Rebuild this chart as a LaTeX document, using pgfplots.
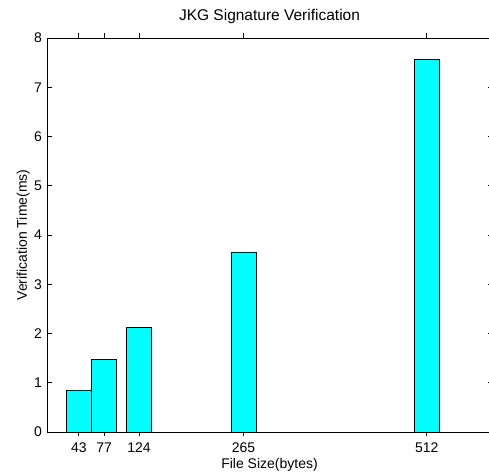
\documentclass[border=0pt]{standalone}
\usepackage{pgfplots}
\pgfplotsset{compat=1.18}
\usepackage{fontspec}
\setmainfont{Liberation Sans}
\definecolor{barcyan}{RGB}{0,255,255}

\begin{document}
\begin{tikzpicture}
\begin{axis}[
    scale only axis,
    width=445pt,
    height=394pt,
    xmin=0, xmax=600,
    ymin=0, ymax=8,
    xtick={43,77,124,265,512},
    ytick={0,1,...,8},
    tick align=inside,
    major tick length=4.5pt,
    xtick pos=both, ytick pos=both,
    axis line style={line width=0.8pt},
    tick style={line width=0.8pt, black},
    font=\fontsize{14}{16}\selectfont,
    /pgf/number format/assume math mode=true,
    xticklabel style={anchor=base, yshift=-16pt},
    yticklabel style={xshift=-1.5pt},
    title={JKG Signature Verification},
    title style={at={(rel axis cs:0.5,1)}, anchor=base, yshift=11pt, font=\fontsize{15.5}{18}\selectfont},
    xlabel={File Size(bytes)},
    xlabel style={at={(rel axis cs:0.5,0)}, anchor=base, yshift=-36.5pt},
    ylabel={Verification Time(ms)},
    ylabel style={at={(rel axis cs:0,0.5)}, anchor=base, yshift=20pt},
    ybar, bar width=34, bar shift=0pt,
]
\addplot[fill=barcyan, draw=black, line width=0.8pt] coordinates {
    (43,0.84) (77,1.47) (124,2.12) (265,3.65) (512,7.56)
};
\end{axis}
\pgfresetboundingbox
\path[use as bounding box] (-47pt,-41pt) rectangle (442pt,432pt);
\end{tikzpicture}
\end{document}
